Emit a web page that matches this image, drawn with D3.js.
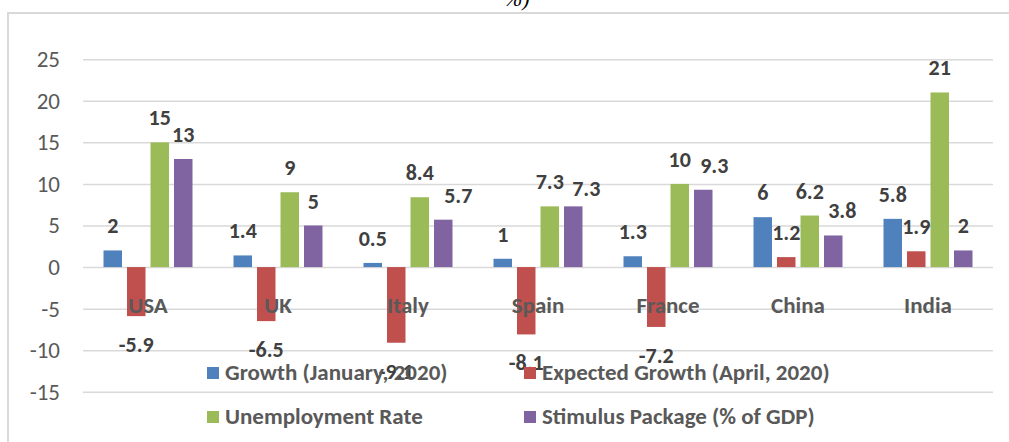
<!DOCTYPE html>
<html>
<head>
<meta charset="utf-8">
<script src="https://cdn.jsdelivr.net/npm/d3@7"></script>
<style>
  html, body { margin: 0; padding: 0; background: #fff; }
  svg { display: block; }
</style>
</head>
<body>
<svg id="chart" width="1009" height="442"></svg>
<script>
// Countries shown along the category axis
const countries = ["USA", "UK", "Italy", "Spain", "France", "China", "India"];

// Series names (legend order)
const seriesNames = [
  "Growth (January, 2020)",
  "Expected Growth (April, 2020)",
  "Unemployment Rate",
  "Stimulus Package (% of GDP)"
];

// Series values per country
const growthJan = [2, 1.4, 0.5, 1, 1.3, 6, 5.8];
const growthApr = [-5.9, -6.5, -9.1, -8.1, -7.2, 1.2, 1.9];
const unemployment = [15, 9, 8.4, 7.3, 10, 6.2, 21];
const stimulus = [13, 5, 5.7, 7.3, 9.3, 3.8, 2];

// Value axis ticks
const yTicks = [-15, -10, -5, 0, 5, 10, 15, 20, 25];

const seriesValues = [growthJan, growthApr, unemployment, stimulus];
const colors = ["#4f81bd", "#c0504d", "#9bbb59", "#8064a2"];

// A few value labels are nudged sideways so neighbouring labels don't collide
const labelNudge = {
  "Italy|3": [15, 0],
  "Spain|3": [13, 7],
  "France|3": [11, 0],
  "China|3": [9, 0]
};

const font = "Carlito, Lato, 'Liberation Sans', sans-serif";
const svg = d3.select("#chart");

// Frame around the chart area
svg.append("path")
  .attr("d", "M8,442 L8,13 L1009,13")
  .attr("fill", "none")
  .attr("stroke", "#d9d9d9")
  .attr("stroke-width", 2);

// Tail of the caption above the frame
svg.append("text")
  .attr("x", 504).attr("y", 6)
  .attr("font-family", "'Liberation Serif', 'DejaVu Serif', serif")
  .attr("font-style", "italic")
  .attr("font-size", 22)
  .attr("fill", "#000")
  .text("%)");

const plotLeft = 83, plotRight = 993;
const y = d3.scaleLinear().domain([-15, 25]).range([391.8, 59.2]);

const x0 = d3.scaleBand().domain(countries).range([plotLeft, plotRight]).padding(0);
const x1 = d3.scaleBand().domain(d3.range(seriesNames.length)).range([-44.5, 44.5]).paddingInner(0.213);

// Horizontal gridlines and value axis labels
const yAxis = d3.axisLeft(y).tickValues(yTicks).tickSize(-(plotRight - plotLeft)).tickPadding(23).tickFormat(d3.format("d"));
const gAxis = svg.append("g").attr("transform", `translate(${plotLeft},0)`).call(yAxis);
gAxis.select(".domain").remove();
gAxis.selectAll(".tick line").attr("stroke", "#d9d9d9").attr("stroke-width", 1.5);
gAxis.selectAll(".tick text")
  .attr("font-family", font)
  .attr("font-size", 23)
  .attr("fill", "#595959")
  .text(d => d < 0 ? "-" + Math.abs(d) : d);

// Bars
const groups = svg.append("g").selectAll("g")
  .data(countries)
  .join("g")
  .attr("transform", d => `translate(${x0(d) + x0.bandwidth() / 2},0)`);

groups.selectAll("rect")
  .data((c, i) => seriesValues.map((vals, s) => ({ s, v: vals[i] })))
  .join("rect")
  .attr("x", d => x1(d.s))
  .attr("width", x1.bandwidth())
  .attr("y", d => y(Math.max(0, d.v)))
  .attr("height", d => Math.abs(y(d.v) - y(0)))
  .attr("fill", d => colors[d.s]);

// Category labels, drawn over the bars
svg.append("g").selectAll("text")
  .data(countries)
  .join("text")
  .attr("x", d => x0(d) + x0.bandwidth() / 2)
  .attr("y", 313)
  .attr("text-anchor", "middle")
  .attr("font-family", font)
  .attr("font-weight", "bold")
  .attr("font-size", 23)
  .attr("fill", "#595959")
  .text(d => d);

// Legend
const legendItems = [
  { s: 0, x: 207, y: 380 },
  { s: 1, x: 524, y: 380 },
  { s: 2, x: 207, y: 424 },
  { s: 3, x: 524, y: 424 }
];
const legend = svg.append("g");
legend.selectAll("rect")
  .data(legendItems)
  .join("rect")
  .attr("x", d => d.x).attr("y", d => d.y - 13)
  .attr("width", 12).attr("height", 12)
  .attr("fill", d => colors[d.s]);
legend.selectAll("text")
  .data(legendItems)
  .join("text")
  .attr("x", d => d.x + 18).attr("y", d => d.y)
  .attr("font-family", font)
  .attr("font-weight", "bold")
  .attr("font-size", 23)
  .attr("fill", "#595959")
  .text(d => seriesNames[d.s]);

// Data labels
const fmt = v => (v < 0 ? "-" : "") + String(Math.abs(v));
groups.selectAll("text.val")
  .data((c, i) => seriesValues.map((vals, s) => ({ c, s, v: vals[i] })))
  .join("text")
  .attr("class", "val")
  .attr("x", d => x1(d.s) + x1.bandwidth() / 2 + (labelNudge[d.c + "|" + d.s] || [0, 0])[0])
  .attr("y", d => (d.v >= 0 ? y(d.v) - 17 : y(d.v) + 36) + (labelNudge[d.c + "|" + d.s] || [0, 0])[1])
  .attr("text-anchor", "middle")
  .attr("font-family", font)
  .attr("font-weight", "bold")
  .attr("font-size", 22)
  .attr("fill", "#404040")
  .text(d => fmt(d.v));
</script>
</body>
</html>
